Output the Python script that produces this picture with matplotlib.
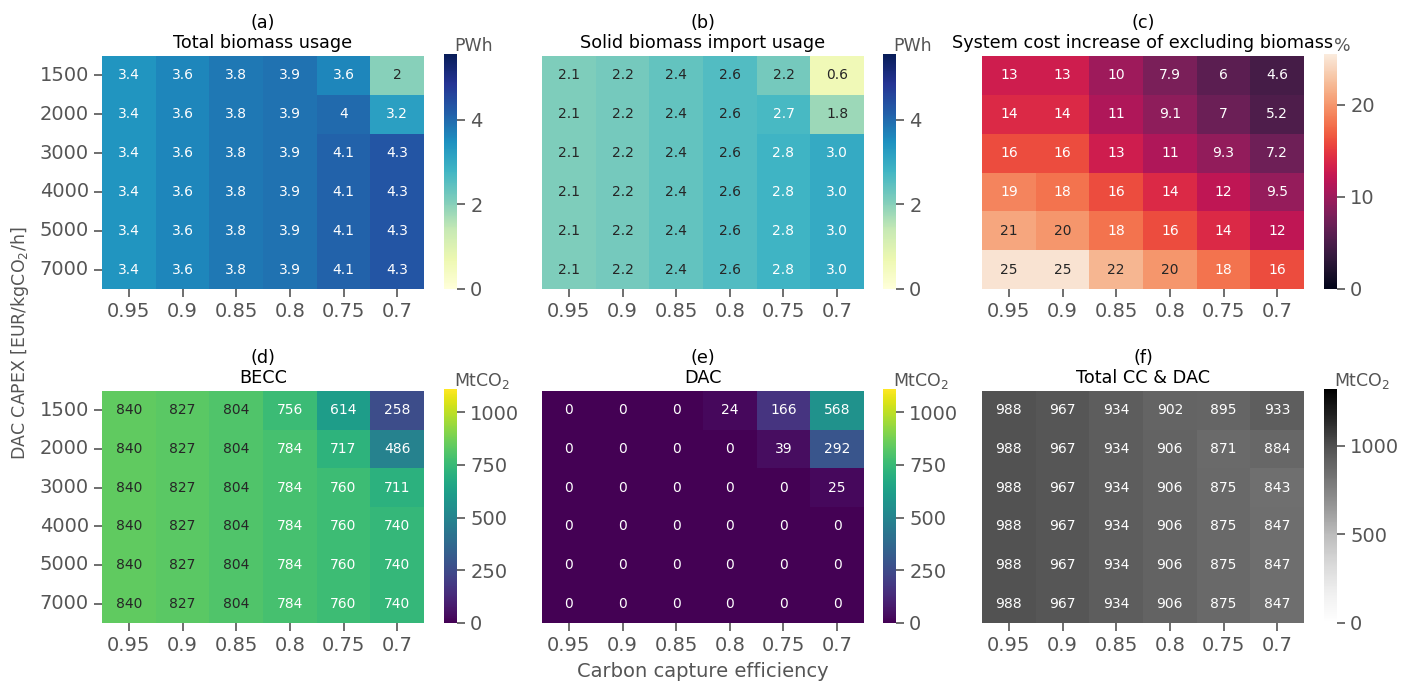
import matplotlib
matplotlib.use("Agg")
import matplotlib.pyplot as plt
import matplotlib.transforms as mtransforms
import numpy as np
import pandas as pd
import seaborn as sns

sns.set_theme(style="ticks")
plt.rcParams["font.family"] = ["DejaVu Sans"]

# Axis categories
capture_efficiency = ["0.95", "0.9", "0.85", "0.8", "0.75", "0.7"]
dac_capex = ["1500", "2000", "3000", "4000", "5000", "7000"]

# (a) Total biomass usage [PWh]
total_biomass = [
    [3.4, 3.6, 3.8, 3.9, 3.6, 2.0],
    [3.4, 3.6, 3.8, 3.9, 4.0, 3.2],
    [3.4, 3.6, 3.8, 3.9, 4.1, 4.3],
    [3.4, 3.6, 3.8, 3.9, 4.1, 4.3],
    [3.4, 3.6, 3.8, 3.9, 4.1, 4.3],
    [3.4, 3.6, 3.8, 3.9, 4.1, 4.3],
]

# (b) Solid biomass import usage [PWh]
solid_biomass_import = [
    [2.1, 2.2, 2.4, 2.6, 2.2, 0.6],
    [2.1, 2.2, 2.4, 2.6, 2.7, 1.8],
    [2.1, 2.2, 2.4, 2.6, 2.8, 3.0],
    [2.1, 2.2, 2.4, 2.6, 2.8, 3.0],
    [2.1, 2.2, 2.4, 2.6, 2.8, 3.0],
    [2.1, 2.2, 2.4, 2.6, 2.8, 3.0],
]

# (c) System cost increase of excluding biomass [%]
cost_increase = [
    [13, 13, 10, 7.9, 6, 4.6],
    [14, 14, 11, 9.1, 7, 5.2],
    [16, 16, 13, 11, 9.3, 7.2],
    [19, 18, 16, 14, 12, 9.5],
    [21, 20, 18, 16, 14, 12],
    [25, 25, 22, 20, 18, 16],
]

# (d) BECC [MtCO2]
becc = [
    [840, 827, 804, 756, 614, 258],
    [840, 827, 804, 784, 717, 486],
    [840, 827, 804, 784, 760, 711],
    [840, 827, 804, 784, 760, 740],
    [840, 827, 804, 784, 760, 740],
    [840, 827, 804, 784, 760, 740],
]

# (e) DAC [MtCO2]
dac = [
    [0, 0, 0, 24, 166, 568],
    [0, 0, 0, 0, 39, 292],
    [0, 0, 0, 0, 0, 25],
    [0, 0, 0, 0, 0, 0],
    [0, 0, 0, 0, 0, 0],
    [0, 0, 0, 0, 0, 0],
]

# (f) Total CC & DAC [MtCO2]
total_cc_dac = [
    [988, 967, 934, 902, 895, 933],
    [988, 967, 934, 906, 871, 884],
    [988, 967, 934, 906, 875, 843],
    [988, 967, 934, 906, 875, 847],
    [988, 967, 934, 906, 875, 847],
    [988, 967, 934, 906, 875, 847],
]

panels = [
    ("(a)\nTotal biomass usage", total_biomass, "YlGnBu", 5.55, ".2g", "PWh", [0, 2, 4]),
    ("(b)\nSolid biomass import usage", solid_biomass_import, "YlGnBu", 5.55, ".1f", "PWh", [0, 2, 4]),
    ("(c)\nSystem cost increase of excluding biomass", cost_increase, "rocket", 25.5, ".2g", "%", [0, 10, 20]),
    ("(d)\nBECC", becc, "viridis", 1110, ".0f", "MtCO$_2$", [0, 250, 500, 750, 1000]),
    ("(e)\nDAC", dac, "viridis", 1110, ".0f", "MtCO$_2$", [0, 250, 500, 750, 1000]),
    ("(f)\nTotal CC & DAC", total_cc_dac, "Greys", 1320, ".0f", "MtCO$_2$", [0, 500, 1000]),
]

W, H = 1416, 687
fig = plt.figure(figsize=(W / 100, H / 100), dpi=100)

grey = "#555555"
col_x = [102, 542, 982]
cbar_x = [444, 883, 1324]
row_y = [(56, 289), (391, 623)]
hm_w = 322
cb_w = 13


def px_rect(x0, y0, x1, y1):
    return [x0 / W, 1 - y1 / H, (x1 - x0) / W, (y1 - y0) / H]


for i, (title, values, cmap, vmax, fmt, unit, cticks) in enumerate(panels):
    r, c = divmod(i, 3)
    y0, y1 = row_y[r]
    ax = fig.add_axes(px_rect(col_x[c], y0, col_x[c] + hm_w, y1))
    cax = fig.add_axes(px_rect(cbar_x[c], y0 - 2, cbar_x[c] + cb_w, y1))
    df = pd.DataFrame(values, index=dac_capex, columns=capture_efficiency)
    sns.heatmap(df, ax=ax, cbar_ax=cax, cmap=cmap, vmin=0, vmax=vmax,
                annot=True, fmt=fmt, annot_kws={"size": 10})
    ax.set_title(title, fontsize=12.7, color="black", pad=6, linespacing=1.1)
    ax.tick_params(axis="both", labelsize=14, colors=grey, length=6, width=1.2)
    ax.tick_params(axis="x", rotation=0)
    ax.tick_params(axis="y", rotation=0)
    for lab in ax.get_xticklabels() + ax.get_yticklabels():
        lab.set_color(grey)
    if c != 0:
        ax.set_yticks([])
    ax.set_xlabel("")
    ax.set_ylabel("")
    cax.set_yticks(cticks)
    cax.tick_params(labelsize=14, colors=grey, length=6, width=1.2)
    for lab in cax.get_yticklabels():
        lab.set_color(grey)
    unit_pos = mtransforms.offset_copy(cax.transAxes, fig=fig, x=0, y=3, units="dots")
    cax.text(0.8, 1.0, unit, transform=unit_pos, ha="left", va="baseline",
             fontsize=12.5, color=grey)
    if i == 4:
        ax.set_xlabel("Carbon capture efficiency", fontsize=14, color=grey, labelpad=5)

fig.text(0.014, 0.5, "DAC CAPEX [EUR/kgCO$_2$/h]", rotation=90, ha="center",
         va="center", fontsize=12.5, color=grey)

fig.savefig("out.png", dpi=100)
